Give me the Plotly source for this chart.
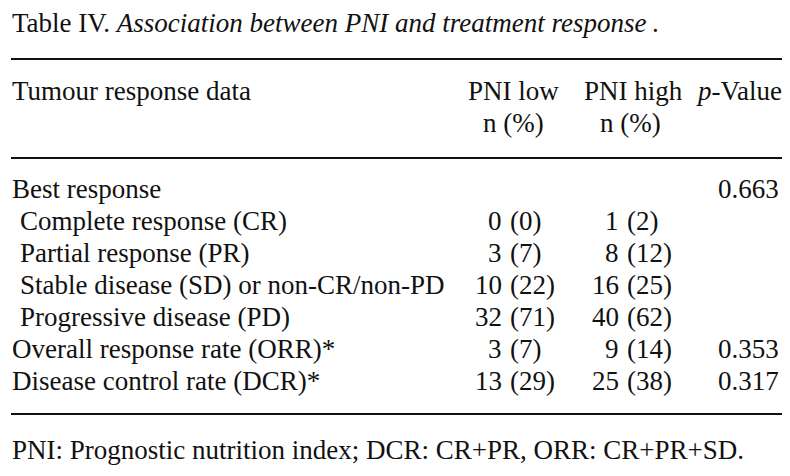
import plotly.graph_objects as go

# ---------------- data ----------------
title_plain = "Table IV."
title_italic = "Association between PNI and treatment response"
title_end = "."
col_headers_1 = ["PNI low", "PNI high"]
col_headers_2 = ["n (%)", "n (%)"]
first_header = "Tumour response data"
pvalue_header = "p-Value"

row_labels = [
    "Best response",
    "Complete response (CR)",
    "Partial response (PR)",
    "Stable disease (SD) or non-CR/non-PD",
    "Progressive disease (PD)",
    "Overall response rate (ORR)*",
    "Disease control rate (DCR)*",
]
row_indented = [False, True, True, True, True, False, False]

pni_low_n = [None, 0, 3, 10, 32, 3, 13]
pni_low_pct = [None, 0, 7, 22, 71, 7, 29]
pni_high_n = [None, 1, 8, 16, 40, 9, 25]
pni_high_pct = [None, 2, 12, 25, 62, 14, 38]
p_values = ["0.663", None, None, None, None, "0.353", "0.317"]

footnote = "PNI: Prognostic nutrition index; DCR: CR+PR, ORR: CR+PR+SD."

# ---------------- layout constants ----------------
W, H = 790, 476
FONT = "Liberation Serif"
FS = 27
COLOR = "#111111"
LEFT_X = 3
INDENT_X = 11
LOW_PAREN_X = 501
HIGH_PAREN_X = 618
SPACE_W = 6.5
LOW_CENTER = 505
HIGH_CENTER = 625
P_CENTER = 740
P_HEAD_RIGHT = 775
TITLE_Y = 15
RULE_YS = [51, 150, 406]
HEAD1_Y = 83
HEAD2_Y = 115
ROW_Y0 = 181
ROW_PITCH = 32.0
FOOT_Y = 442
RULE_X0, RULE_X1 = 3, 787

fig = go.Figure()
fig.add_trace(go.Scatter(x=[0, W], y=[0, H], mode="markers",
                         marker=dict(opacity=0), hoverinfo="skip", showlegend=False))

ann = []


def txt(x, y, s, xanchor="left"):
    ann.append(dict(x=x, y=y, xref="x", yref="y", text=s, showarrow=False,
                    xanchor=xanchor, yanchor="middle", borderpad=0,
                    font=dict(family=FONT, size=FS, color=COLOR)))


txt(LEFT_X, TITLE_Y, f"{title_plain} <i>{title_italic}</i>\u2009{title_end}")
txt(LEFT_X, HEAD1_Y, first_header)
txt(LOW_CENTER, HEAD1_Y, col_headers_1[0], "center")
txt(HIGH_CENTER, HEAD1_Y, col_headers_1[1], "center")
pv = pvalue_header.split("-", 1)
txt(P_HEAD_RIGHT, HEAD1_Y, f"<i>{pv[0]}</i>-{pv[1]}", "right")
txt(LOW_CENTER, HEAD2_Y, col_headers_2[0], "center")
txt(HIGH_CENTER - 3, HEAD2_Y, col_headers_2[1], "center")

for i, lab in enumerate(row_labels):
    y = ROW_Y0 + i * ROW_PITCH
    txt(INDENT_X if row_indented[i] else LEFT_X, y, lab)
    if pni_low_n[i] is not None:
        txt(LOW_PAREN_X - SPACE_W, y, str(pni_low_n[i]), "right")
        txt(LOW_PAREN_X, y, f"({pni_low_pct[i]})", "left")
    if pni_high_n[i] is not None:
        txt(HIGH_PAREN_X - SPACE_W, y, str(pni_high_n[i]), "right")
        txt(HIGH_PAREN_X, y, f"({pni_high_pct[i]})", "left")
    if p_values[i] is not None:
        txt(P_CENTER, y, p_values[i], "center")

txt(LEFT_X, FOOT_Y, footnote)

shapes = [dict(type="line", xref="x", yref="y", x0=RULE_X0, x1=RULE_X1, y0=ry, y1=ry,
               line=dict(color=COLOR, width=2)) for ry in RULE_YS]

fig.update_layout(
    width=W, height=H, margin=dict(l=0, r=0, t=0, b=0),
    paper_bgcolor="white", plot_bgcolor="white",
    xaxis=dict(range=[0, W], visible=False, fixedrange=True),
    yaxis=dict(range=[H, 0], visible=False, fixedrange=True),
    annotations=ann, shapes=shapes, showlegend=False,
)
fig.write_html("out.html")
